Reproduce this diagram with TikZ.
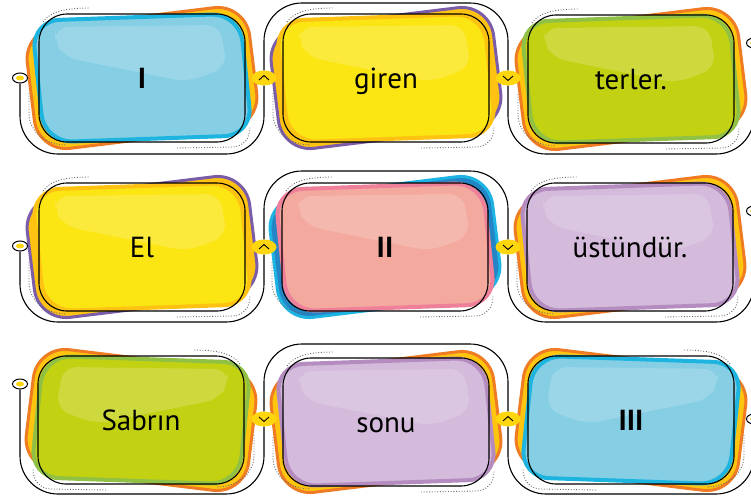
\documentclass[tikz,border=0pt]{standalone}
\usepackage{fontspec}
\setmainfont{PT Sans}
\usepackage{tikz}
\usetikzlibrary{positioning}
\usetikzlibrary{shapes.geometric}
\pgfdeclarelayer{paper}
\pgfdeclarelayer{background}
\pgfsetlayers{paper,background,main}

\definecolor{bluefill}{HTML}{86CEE4}
\definecolor{blueedge}{HTML}{1DB4DF}
\definecolor{yellowfill}{HTML}{FBE512}
\definecolor{yellowedge}{HTML}{FDC212}
\definecolor{greenfill}{HTML}{C2D112}
\definecolor{greenedge}{HTML}{90C144}
\definecolor{pinkfill}{HTML}{F3A99D}
\definecolor{pinkedge}{HTML}{EE8099}
\definecolor{lilacfill}{HTML}{D4BADB}
\definecolor{lilacedge}{HTML}{B48CC0}
\definecolor{backyellow}{HTML}{FFC50F}
\definecolor{backorange}{HTML}{EF7B22}
\definecolor{backpurple}{HTML}{7B5CA8}
\definecolor{backblue}{HTML}{2385C5}
\definecolor{backcyan}{HTML}{1DB3E2}
\definecolor{badgeyellow}{HTML}{FDD60E}

\begin{document}
\begin{tikzpicture}[x=1pt, y=-1pt,
	cardnode/.style={draw=black, line width=1.1, rounded corners=28, minimum width=206, minimum height=128, inner sep=0, font=\fontsize{29}{31}\selectfont, text height=20, text depth=0},
	badge/.style={ellipse, fill=badgeyellow, minimum width=25, minimum height=15, inner sep=0},
	endcap/.style={ellipse, draw=black, line width=1, fill=white, minimum width=15, minimum height=10, inner sep=0, path picture={\fill[badgeyellow] (path picture bounding box.center) ellipse (4 and 2.5);}},
	loopline/.style={line width=1.1, rounded corners=38},
	chevron/.style={line width=0.9},
	backlayer/.style={rotate=7, rounded corners=32, line width=3},
	cardlayer/.style={rotate=2, xslant=-0.07, rounded corners=28, line width=4},
	gloss/.style={fill=white, opacity=0.18, rounded corners=14},
	dots/.style={draw=black!60, line width=0.9, dash pattern=on 0.9pt off 1.8pt},
	]
	\useasboundingbox (0,0) rectangle (751,503);
	%Cards
	\node[cardnode] (k1) at (142,78)  {\bfseries I};
	\node[cardnode] (k2) at (386,78)  {giren};
	\node[cardnode] (k3) at (631,79)  {terler.};
	\node[cardnode] (k4) at (142,247) {El};
	\node[cardnode] (k5) at (385,247) {\bfseries II};
	\node[cardnode] (k6) at (630,247) {üstündür.};
	\node[cardnode] (k7) at (141,420) {Sabrın};
	\node[cardnode] (k8) at (386,422) {sonu};
	\node[cardnode] (k9) at (631,420) {\bfseries III};
	%Ends and badges
	\node[endcap] (s1) at (20,78)  {};
	\node[endcap] (e1) at (754,43) {};
	\node[endcap] (s2) at (20,246) {};
	\node[endcap] (e2) at (754,211) {};
	\node[endcap] (s3) at (20,384) {};
	\node[endcap] (e3) at (754,419) {};
	\node[badge] (b1) at (264,78)  {};
	\node[badge] (b2) at (508,78)  {};
	\node[badge] (b3) at (264,247) {};
	\node[badge] (b4) at (508,247) {};
	\node[badge] (b5) at (264,419) {};
	\node[badge] (b6) at (508,419) {};
	
	\draw[chevron] ([shift={(-5,2)}]b1.center) -- ([shift={(0,-2.5)}]b1.center) -- ([shift={(5,2)}]b1.center);
	\draw[chevron] ([shift={(-5,-2)}]b2.center) -- ([shift={(0,2.5)}]b2.center) -- ([shift={(5,-2)}]b2.center);
	\draw[chevron] ([shift={(-5,2)}]b3.center) -- ([shift={(0,-2.5)}]b3.center) -- ([shift={(5,2)}]b3.center);
	\draw[chevron] ([shift={(-5,-2)}]b4.center) -- ([shift={(0,2.5)}]b4.center) -- ([shift={(5,-2)}]b4.center);
	\draw[chevron] ([shift={(-5,-2)}]b5.center) -- ([shift={(0,2.5)}]b5.center) -- ([shift={(5,-2)}]b5.center);
	\draw[chevron] ([shift={(-5,2)}]b6.center) -- ([shift={(0,-2.5)}]b6.center) -- ([shift={(5,2)}]b6.center);
	
	%Loops
	\draw[loopline] (s1) -- (20,154) -- (264,154) -- (b1);
	\draw[loopline] (b1) -- (264,3) -- (508,3) -- (b2);
	\draw[loopline] (b2) -- (508,154) -- (754,154) -- (e1);
	\draw[loopline] (s2) -- (20,322) -- (264,322) -- (b3);
	\draw[loopline] (b3) -- (264,171) -- (508,171) -- (b4);
	\draw[loopline] (b4) -- (508,322) -- (754,322) -- (e2);
	\draw[loopline] (s3) -- (20,494) -- (264,494) -- (b5);
	\draw[loopline] (b5) -- (264,344) -- (508,344) -- (b6);
	\draw[loopline] (b6) -- (508,494) -- (754,494) -- (e3);
	
	\begin{pgfonlayer}{paper}
	\fill[white] (0,0) rectangle (751,503);
	\end{pgfonlayer}
	
	\begin{pgfonlayer}{background}
	\begin{scope}[shift={(k1.center)}]
	\filldraw[backlayer, fill=backyellow, draw=backorange] (-112,-61) rectangle (112,61);
	\filldraw[cardlayer, fill=bluefill, draw=blueedge] (-104,-61) rectangle (104,61);
	\fill[gloss] (-87,-51) -- (78,-53) -- (85,-11) -- (45,4) -- (-79,-21) -- (-87,-38) -- cycle;
	\draw[dots] (-99,-56) .. controls (-92,-66) and (-78,-70) .. (-52,-70) (-113,15) -- (-113,35) .. controls (-113,55) and (-95,67) .. (-75,67) (35,70) -- (91,69) .. controls (102,68) and (108,60) .. (108,49);
	\end{scope}
	\begin{scope}[shift={(k2.center)}]
	\filldraw[backlayer, fill=yellowedge, draw=backpurple] (-112,-61) rectangle (112,61);
	\filldraw[cardlayer, fill=yellowfill, draw=yellowedge] (-104,-61) rectangle (104,61);
	\fill[gloss] (-87,-51) -- (78,-53) -- (85,-11) -- (45,4) -- (-79,-21) -- (-87,-38) -- cycle;
	\draw[dots] (-99,-56) .. controls (-92,-66) and (-78,-70) .. (-52,-70) (-113,15) -- (-113,35) .. controls (-113,55) and (-95,67) .. (-75,67) (35,70) -- (91,69) .. controls (102,68) and (108,60) .. (108,49);
	\end{scope}
	\begin{scope}[shift={(k3.center)}]
	\filldraw[backlayer, fill=backyellow, draw=backorange] (-112,-61) rectangle (112,61);
	\filldraw[cardlayer, fill=greenfill, draw=greenedge] (-104,-61) rectangle (104,61);
	\fill[gloss] (-87,-51) -- (78,-53) -- (85,-11) -- (45,4) -- (-79,-21) -- (-87,-38) -- cycle;
	\draw[dots] (-99,-56) .. controls (-92,-66) and (-78,-70) .. (-52,-70) (-113,15) -- (-113,35) .. controls (-113,55) and (-95,67) .. (-75,67) (35,70) -- (91,69) .. controls (102,68) and (108,60) .. (108,49);
	\end{scope}
	\begin{scope}[shift={(k4.center)}]
	\filldraw[backlayer, fill=yellowedge, draw=backpurple] (-112,-61) rectangle (112,61);
	\filldraw[cardlayer, fill=yellowfill, draw=yellowedge] (-104,-61) rectangle (104,61);
	\fill[gloss] (-87,-51) -- (78,-53) -- (85,-11) -- (45,4) -- (-79,-21) -- (-87,-38) -- cycle;
	\draw[dots] (-99,-56) .. controls (-92,-66) and (-78,-70) .. (-52,-70) (-113,15) -- (-113,35) .. controls (-113,55) and (-95,67) .. (-75,67) (35,70) -- (91,69) .. controls (102,68) and (108,60) .. (108,49);
	\end{scope}
	\begin{scope}[shift={(k5.center)}]
	\filldraw[backlayer, fill=backblue, draw=backcyan] (-112,-61) rectangle (112,61);
	\filldraw[cardlayer, fill=pinkfill, draw=pinkedge] (-104,-61) rectangle (104,61);
	\fill[gloss] (-87,-51) -- (78,-53) -- (85,-11) -- (45,4) -- (-79,-21) -- (-87,-38) -- cycle;
	\draw[dots] (-99,-56) .. controls (-92,-66) and (-78,-70) .. (-52,-70) (-113,15) -- (-113,35) .. controls (-113,55) and (-95,67) .. (-75,67) (35,70) -- (91,69) .. controls (102,68) and (108,60) .. (108,49);
	\end{scope}
	\begin{scope}[shift={(k6.center)}]
	\filldraw[backlayer, fill=backyellow, draw=backorange] (-112,-61) rectangle (112,61);
	\filldraw[cardlayer, fill=lilacfill, draw=lilacedge] (-104,-61) rectangle (104,61);
	\fill[gloss] (-87,-51) -- (78,-53) -- (85,-11) -- (45,4) -- (-79,-21) -- (-87,-38) -- cycle;
	\draw[dots] (-99,-56) .. controls (-92,-66) and (-78,-70) .. (-52,-70) (-113,15) -- (-113,35) .. controls (-113,55) and (-95,67) .. (-75,67) (35,70) -- (91,69) .. controls (102,68) and (108,60) .. (108,49);
	\end{scope}
	\begin{scope}[shift={(k7.center)}, xscale=-1]
	\filldraw[backlayer, fill=backyellow, draw=backorange] (-112,-61) rectangle (112,61);
	\filldraw[cardlayer, fill=greenfill, draw=greenedge] (-104,-61) rectangle (104,61);
	\fill[gloss] (-87,-51) -- (78,-53) -- (85,-11) -- (45,4) -- (-79,-21) -- (-87,-38) -- cycle;
	\draw[dots] (-99,-56) .. controls (-92,-66) and (-78,-70) .. (-52,-70) (-113,15) -- (-113,35) .. controls (-113,55) and (-95,67) .. (-75,67) (35,70) -- (91,69) .. controls (102,68) and (108,60) .. (108,49);
	\end{scope}
	\begin{scope}[shift={(k8.center)}]
	\filldraw[backlayer, fill=backyellow, draw=backorange] (-112,-61) rectangle (112,61);
	\filldraw[cardlayer, fill=lilacfill, draw=lilacedge] (-104,-61) rectangle (104,61);
	\fill[gloss] (-87,-51) -- (78,-53) -- (85,-11) -- (45,4) -- (-79,-21) -- (-87,-38) -- cycle;
	\draw[dots] (-99,-56) .. controls (-92,-66) and (-78,-70) .. (-52,-70) (-113,15) -- (-113,35) .. controls (-113,55) and (-95,67) .. (-75,67) (35,70) -- (91,69) .. controls (102,68) and (108,60) .. (108,49);
	\end{scope}
	\begin{scope}[shift={(k9.center)}, xscale=-1]
	\filldraw[backlayer, fill=backyellow, draw=backorange] (-112,-61) rectangle (112,61);
	\filldraw[cardlayer, fill=bluefill, draw=blueedge] (-104,-61) rectangle (104,61);
	\fill[gloss] (-87,-51) -- (78,-53) -- (85,-11) -- (45,4) -- (-79,-21) -- (-87,-38) -- cycle;
	\draw[dots] (-99,-56) .. controls (-92,-66) and (-78,-70) .. (-52,-70) (-113,15) -- (-113,35) .. controls (-113,55) and (-95,67) .. (-75,67) (35,70) -- (91,69) .. controls (102,68) and (108,60) .. (108,49);
	\end{scope}
	\end{pgfonlayer}
\end{tikzpicture}
\end{document}
